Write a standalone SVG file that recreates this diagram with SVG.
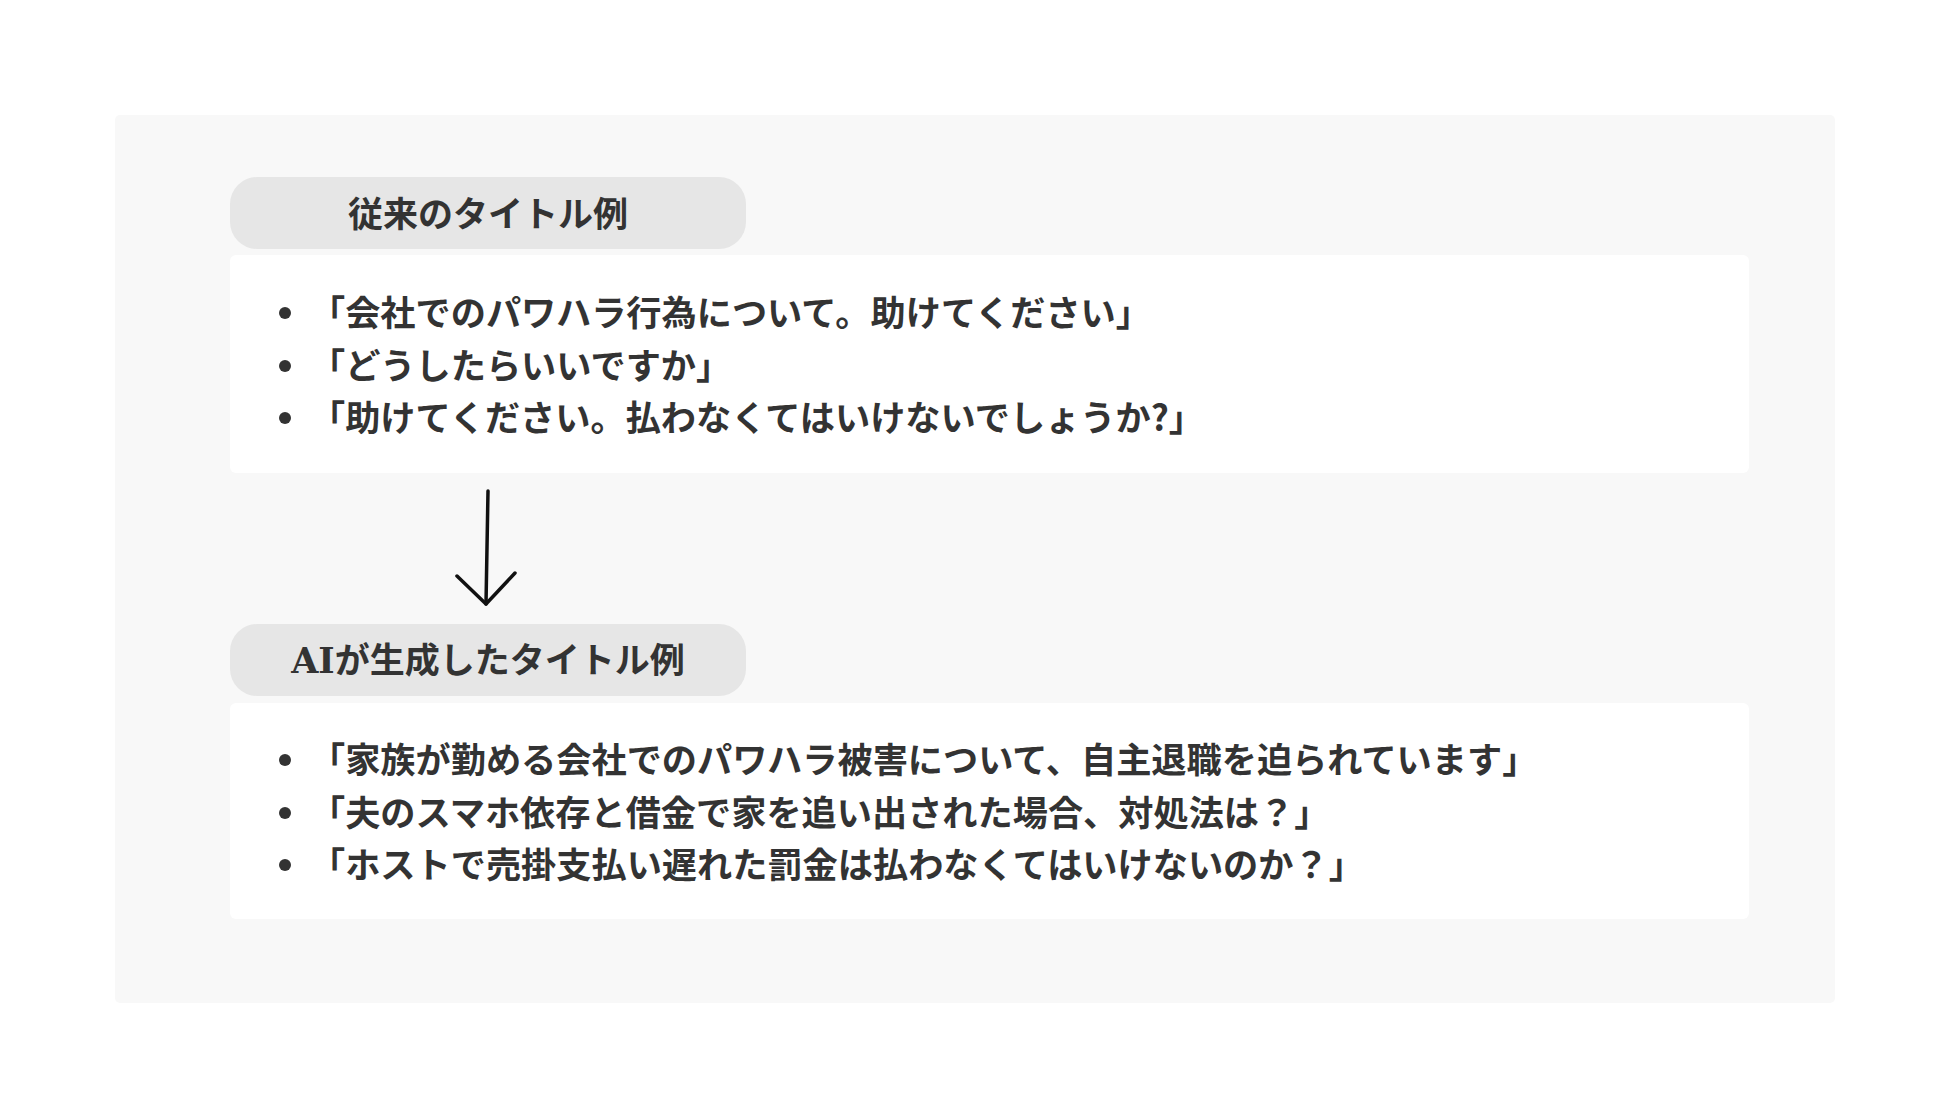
<svg xmlns="http://www.w3.org/2000/svg" width="1950" height="1119" viewBox="0 0 1950 1119">
<style>
.panel{fill:#f8f8f8}
.pill{fill:#e6e6e6}
.box{fill:#ffffff}
.hd{font-family:"Noto Sans CJK JP","Noto Sans",sans-serif;font-weight:700;font-size:35px;fill:#333333}
.ai{font-family:"DejaVu Serif","Liberation Serif",serif;font-weight:700}
.li{font-family:"Noto Sans CJK JP","Noto Sans",sans-serif;font-weight:700;font-size:35.2px;fill:#333333}
.dot{fill:#333333}
.conn{stroke:#111111;stroke-width:3.5;fill:none;stroke-linecap:round;stroke-linejoin:round}
</style>
<rect width="1950" height="1119" fill="#ffffff"/>
<rect class="panel" x="115" y="115" width="1720" height="888" rx="5"/>
<g id="header-old">
<rect class="pill" x="230" y="177" width="516" height="72" rx="27"/>
<text class="hd" x="488" y="227" text-anchor="middle">従来のタイトル例</text>
</g>
<g id="list-old">
<rect class="box" x="230" y="255" width="1519" height="218" rx="6"/>
<circle class="dot" cx="285" cy="313" r="6"/>
<circle class="dot" cx="285" cy="366" r="6"/>
<circle class="dot" cx="285" cy="418" r="6"/>
<text class="li" x="310" y="326">「会社でのパワハラ行為について。助けてください」</text>
<text class="li" x="310" y="379">「どうしたらいいですか」</text>
<text class="li" x="310" y="431">「助けてください。払わなくてはいけないでしょうか?」</text>
</g>
<g id="header-ai">
<rect class="pill" x="230" y="624" width="516" height="72" rx="27"/>
<text class="hd" x="488" y="673" text-anchor="middle"><tspan class="ai">AI</tspan>が生成したタイトル例</text>
</g>
<g id="list-ai">
<rect class="box" x="230" y="703" width="1519" height="216" rx="6"/>
<circle class="dot" cx="285" cy="760" r="6"/>
<circle class="dot" cx="285" cy="813" r="6"/>
<circle class="dot" cx="285" cy="865" r="6"/>
<text class="li" x="310" y="773">「家族が勤める会社でのパワハラ被害について、自主退職を迫られています」</text>
<text class="li" x="310" y="826">「夫のスマホ依存と借金で家を追い出された場合、対処法は？」</text>
<text class="li" x="310" y="878">「ホストで売掛支払い遅れた罰金は払わなくてはいけないのか？」</text>
</g>
<g id="connectors">
<path class="conn" d="M488 491 L486 604"/>
<path class="conn" d="M457 576 L486 604 L515 573"/>
</g>
</svg>
